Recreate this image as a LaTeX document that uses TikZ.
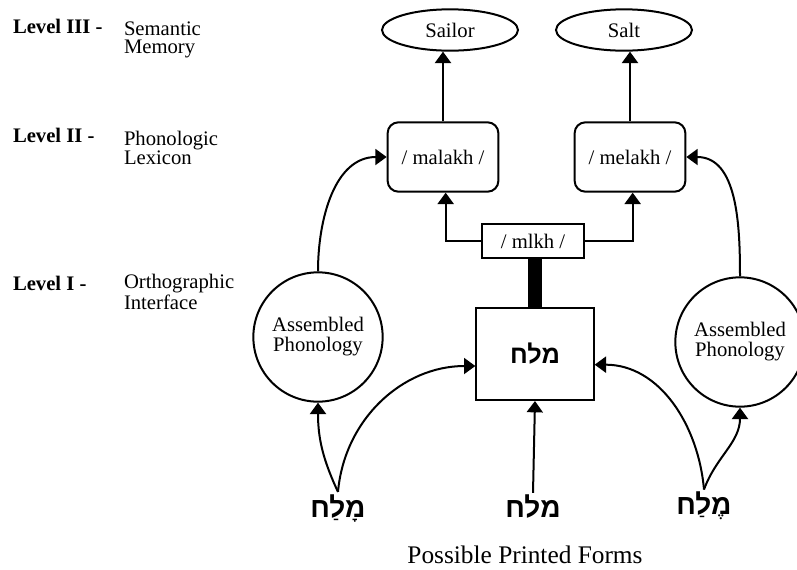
\documentclass[tikz,border=0pt]{standalone}
\usepackage{fontspec}
\setmainfont{Liberation Serif}
\newfontfamily\hebfont[Script=Hebrew]{Liberation Sans}
\TeXXeTstate=1
\usetikzlibrary{arrows.meta,positioning,shapes.geometric}
\newcommand{\heb}[1]{{\hebfont\bfseries\beginR #1\endR}}

\begin{document}
\begin{tikzpicture}[x=0.75pt, y=-0.75pt, >={Triangle[width=12pt,length=8.5pt]},
  line width=1.5pt,
  every node/.style={font=\fontsize{15.5}{15}\selectfont},
  lvl/.style={anchor=base west, inner sep=0pt, font=\fontsize{15.5}{15}\selectfont\bfseries},
  lvltxt/.style={anchor=west, inner sep=0pt, align=left,
    font=\fontsize{15.5}{13.5}\selectfont},
  sem/.style={draw, ellipse, minimum width=102pt, minimum height=31pt, inner sep=0pt},
  lex/.style={draw, rounded corners=8pt, minimum width=83pt, minimum height=52pt},
  circ/.style={draw, circle, minimum size=97pt, inner sep=0pt, align=center,
    font=\fontsize{15.5}{15}\selectfont},
  hebw/.style={inner sep=1pt, font=\fontsize{21}{21}\selectfont},
  arr/.style={->}]
\useasboundingbox (0,0) rectangle (797,569);

% Level labels
\node[lvl] (l3) at (12,33) {Level III -};
\node[lvltxt] (l3t) at (123,40) {Semantic\\Memory};
\node[lvl] (l2) at (12,142) {Level II -};
\node[lvltxt] (l2t) at (123,148) {Phonologic\\Lexicon};
\node[lvl] (l1) at (12,290) {Level I -};
\node[lvltxt] (l1t) at (123,292) {Orthographic\\Interface};

% Nodes
\node[sem] (sailor) at (450,30) {Sailor};
\node[sem] (salt) at (624,30) {Salt};
\node[lex] (malakh) at (443,157) {/ malakh /};
\node[lex] (melakh) at (630,157) {/ melakh /};
\node[draw, minimum width=77pt, minimum height=26pt] (mlkh) at (533,241) {/ mlkh /};
\node[draw, minimum width=88pt, minimum height=69pt, hebw,
  font=\fontsize{19}{19}\selectfont] (sq) at (535,354) {\heb{מלח}\hspace{12pt}};
\node[circ] (lcirc) at (318,337) {Assembled\\Phonology};
\node[circ] (rcirc) at (740,342) {Assembled\\Phonology};
\node[hebw] (hl) at (338,508) {\heb{מָלַח}};
\node[hebw] (hc) at (533,507) {\heb{מלח}};
\node[hebw] (hr) at (704,506) {\heb{מֶלַח}};
\node (forms) at (525,555) {\fontsize{19}{19}\selectfont Possible Printed Forms};

% Arrows
\draw[arr] (malakh.north) -- (malakh.north |- sailor.south);
\draw[arr] (melakh.north) -- (melakh.north |- salt.south);
\draw[arr] (mlkh.west) -| ([xshift=2pt]malakh.south);
\draw[arr] (mlkh.east) -| ([xshift=2pt]melakh.south);
\draw[line width=10pt] (mlkh.south -| sq.north) -- (sq.north);
\draw[arr] (lcirc.north) to[out=90, in=180] (malakh.west);
\draw[arr] (rcirc.north) to[out=90, in=0] (melakh.east);
\draw[arr] (hl.north) to[out=115, in=-90] (lcirc.south);
\draw[arr] (hl.north) to[out=85, in=180] ([yshift=-9pt]sq.west);
\draw[arr] (hc.north) -- (sq.south);
\draw[arr] (hr.north) to[out=70, in=-90] (rcirc.south);
\draw[arr] (hr.north) to[out=95, in=0] ([yshift=-8pt]sq.east);

\end{tikzpicture}
\end{document}
